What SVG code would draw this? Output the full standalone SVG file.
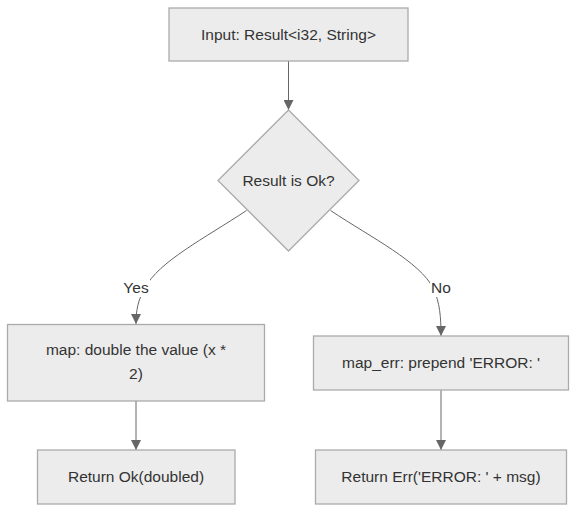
<svg xmlns="http://www.w3.org/2000/svg" width="584" height="520" viewBox="0 0 584 520">
<style>
.node rect, .node polygon { fill: #ECECEC; stroke: #ABABAB; stroke-width: 1.3; }
.node text, .lbl text { font-family: "Liberation Sans", Arial, sans-serif; font-size: 15.5px; fill: #333; text-anchor: middle; }
.edge { fill: none; stroke: #666; stroke-width: 1; }
</style>
<defs>
<marker id="arr" viewBox="0 0 10 10" refX="10" refY="5" markerWidth="10" markerHeight="10" markerUnits="userSpaceOnUse" orient="auto">
<path d="M0,0 L10,5 L0,10 z" fill="#666"/>
</marker>
</defs>
<rect width="584" height="520" fill="#fff"/>
<g id="connectors">
<path class="edge" d="M288.5,61 L288.5,110" marker-end="url(#arr)"/>
<path class="edge" d="M246.5,210.5 C205,238 158,262 145,288 C138,300 136,310 136,324" marker-end="url(#arr)"/>
<path class="edge" d="M330.5,210.5 C372,238 420,262 433,288 C440,302 441,318 441,336" marker-end="url(#arr)"/>
<path class="edge" d="M136,401 L136,450" marker-end="url(#arr)"/>
<path class="edge" d="M441,390 L441,450" marker-end="url(#arr)"/>
</g>
<g class="lbl" id="label-yes">
<rect x="122" y="278" width="28" height="19" fill="#fff"/>
<text x="136" y="293">Yes</text>
</g>
<g class="lbl" id="label-no">
<rect x="430" y="278" width="22" height="19" fill="#fff"/>
<text x="441" y="293">No</text>
</g>
<g class="node" id="input">
<rect x="169" y="8" width="239" height="53"/>
<text x="288.5" y="40">Input: Result&lt;i32, String&gt;</text>
</g>
<g class="node" id="decision">
<polygon points="288.5,110 359,180.5 288.5,251 218,180.5"/>
<text x="288.5" y="186">Result is Ok?</text>
</g>
<g class="node" id="map">
<rect x="7.5" y="324.5" width="257" height="76.5"/>
<text x="136" y="355">map: double the value (x *</text>
<text x="136" y="379">2)</text>
</g>
<g class="node" id="maperr">
<rect x="313.5" y="336" width="255" height="54"/>
<text x="441" y="368">map_err: prepend 'ERROR: '</text>
</g>
<g class="node" id="retok">
<rect x="37.5" y="450" width="197.5" height="54"/>
<text x="136" y="482">Return Ok(doubled)</text>
</g>
<g class="node" id="reterr">
<rect x="315.5" y="450" width="251" height="54"/>
<text x="441" y="482">Return Err('ERROR: ' + msg)</text>
</g>
</svg>
